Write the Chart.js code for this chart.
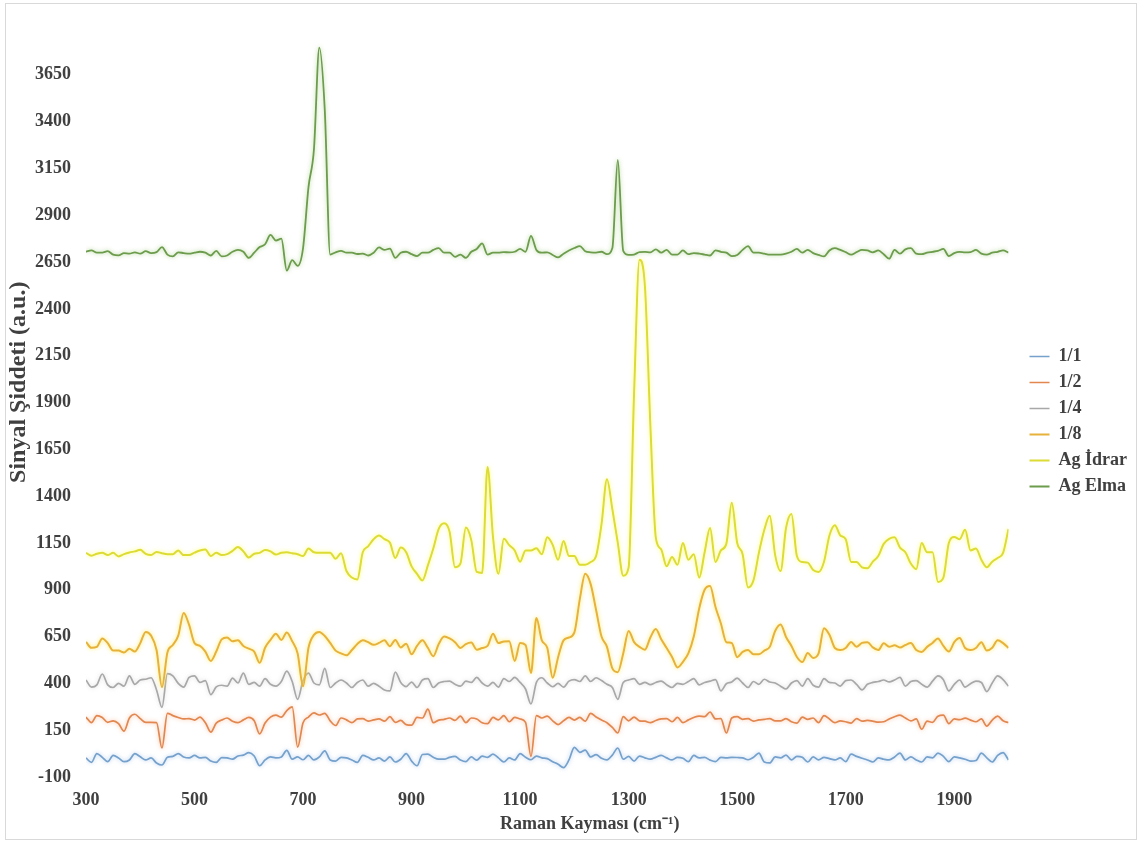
<!DOCTYPE html>
<html>
<head>
<meta charset="utf-8">
<script src="https://cdn.jsdelivr.net/npm/chart.js@4.4.1/dist/chart.umd.min.js"></script>
<style>
  html, body { margin: 0; padding: 0; background: #ffffff; }
  #frame { position: absolute; left: 5px; top: 3px; width: 1130px; height: 835px; border: 1px solid #d9d9d9; }
  #wrap { position: absolute; left: 0; top: 0; width: 1137px; height: 843px; }
</style>
</head>
<body>
<div id="frame"></div>
<div id="wrap"><canvas id="spectra"></canvas></div>
<script>
// Raman shift grid (cm-1), 10 cm-1 steps from 300 to 2000
const ramanShift = Array.from({ length: 171 }, (_, i) => 300 + 10 * i);

const xTickValues = [300, 500, 700, 900, 1100, 1300, 1500, 1700, 1900];
const yTickValues = [-100, 150, 400, 650, 900, 1150, 1400, 1650, 1900, 2150, 2400, 2650, 2900, 3150, 3400, 3650];

const seriesNames = ['1/1', '1/2', '1/4', '1/8', 'Ag İdrar', 'Ag Elma'];

// Signal intensity (a.u.) for each sample, one value per Raman shift
const dil_1_1 = [
  2, -22, 25, 5, -18, 15, 2, -18, -9, 25,
  8, -9, 2, -25, -36, 5, 10, 25, 7, 2,
  15, 2, 5, -15, -22, 4, 2, -5, 12, 17,
  30, 12, -40, -9, 7, 2, 7, 42, -5, 7,
  -8, 15, -9, 7, 40, -9, -15, 5, 2, -9,
  -22, 15, 5, -9, 2, -15, 7, -20, -5, 25,
  -15, -40, 20, 22, 5, -5, -5, 5, 10, -9,
  -18, 7, -10, 12, 5, 22, 2, -20, 2, -9,
  25, 5, -8, 12, 2, -2, -18, -32, -50, -9,
  58, 32, 44, 7, 20, 0, -9, 17, 55, -5,
  10, -15, 12, 2, -5, 5, 15, 2, -9, 5,
  0, -18, 15, 2, 5, -10, -18, 5, 2, 5,
  4, 2, -8, 5, 28, -20, -25, 7, 2, 17,
  -9, 10, 5, -20, 7, -9, 5, -2, -9, 2,
  -18, 22, 10, 0, -9, -20, 2, -5, -9, 7,
  28, -9, 7, -9, -20, 7, 2, 28, 10, -18,
  7, 2, -5, -15, -12, 28, 2, -20, 15, 30,
  -9
];

const dil_1_2 = [
  220, 190, 228, 218, 192, 200, 185, 145, 215, 235,
  212, 192, 192, 190, 55, 240, 228, 218, 210, 212,
  204, 220, 190, 140, 188, 204, 215, 198, 190, 205,
  218, 200, 130, 188, 220, 230, 220, 255, 275, 60,
  190, 220, 242, 231, 240, 200, 175, 215, 205, 190,
  210, 212, 198, 205, 210, 198, 222, 192, 202, 180,
  177, 218, 215, 262, 190, 204, 208, 215, 202, 225,
  190, 215, 210, 190, 185, 218, 205, 228, 195, 218,
  210, 192, 10, 228, 215, 225, 200, 180, 200, 218,
  204, 218, 198, 240, 220, 204, 190, 165, 135, 222,
  200, 220, 200, 198, 190, 202, 210, 212, 195, 218,
  190, 205, 218, 225, 222, 247, 210, 212, 135, 215,
  222, 208, 212, 198, 205, 208, 212, 200, 200, 212,
  195, 188, 220, 208, 215, 190, 228, 210, 190, 200,
  195, 188, 212, 198, 202, 198, 193, 195, 210, 222,
  230, 215, 200, 210, 155, 198, 192, 225, 230, 185,
  210, 206, 214, 204, 195, 210, 172, 204, 225, 200,
  190
];

const dil_1_4 = [
  418, 380, 392, 450, 392, 378, 400, 385, 440, 395,
  418, 422, 430, 365, 272, 452, 440, 400, 380, 432,
  440, 405, 415, 340, 381, 390, 385, 428, 402, 455,
  395, 405, 385, 425, 395, 385, 410, 465, 410, 315,
  415, 455, 402, 392, 480, 378, 402, 418, 402, 378,
  405, 418, 385, 400, 385, 365, 360, 460, 405, 383,
  407, 378, 418, 425, 378, 402, 410, 412, 395, 385,
  412, 405, 432, 402, 385, 405, 380, 425, 410, 432,
  405, 370, 290, 405, 430, 402, 382, 400, 380, 412,
  420, 410, 440, 410, 430, 415, 395, 378, 315, 405,
  418, 425, 395, 405, 393, 405, 412, 393, 378, 400,
  395, 410, 425, 392, 405, 412, 420, 360, 398, 407,
  428, 402, 378, 410, 395, 422, 407, 402, 385, 370,
  402, 415, 385, 425, 390, 380, 425, 405, 402, 385,
  415, 418, 395, 365, 395, 405, 410, 418, 408, 418,
  432, 385, 410, 415, 395, 380, 412, 440, 420, 360,
  395, 418, 380, 398, 412, 405, 356, 402, 440, 420,
  385
];

const dil_1_8 = [
  621, 590, 595, 640, 615, 575, 575, 565, 585, 570,
  615, 675, 655, 578, 380, 565, 605, 655, 776, 712,
  615, 600, 570, 520, 570, 635, 645, 625, 630, 600,
  585, 570, 510, 590, 632, 665, 632, 672, 625, 560,
  385, 590, 659, 675, 653, 616, 575, 560, 550, 578,
  610, 630, 620, 606, 616, 630, 598, 632, 592, 612,
  555, 600, 630, 590, 545, 610, 650, 640, 620, 589,
  610, 618, 580, 589, 600, 665, 615, 624, 625, 520,
  615, 605, 456, 749, 630, 590, 430, 540, 630, 645,
  672, 850, 985, 930, 792, 650, 595, 480, 460, 560,
  680, 620, 595, 580, 645, 690, 635, 589, 541, 485,
  515, 560, 650, 800, 900, 920, 808, 720, 620, 616,
  540, 568, 578, 555, 555, 575, 595, 680, 715, 648,
  600, 541, 514, 562, 536, 560, 695, 660, 589, 578,
  589, 621, 595, 616, 620, 592, 578, 614, 595, 603,
  592, 605, 615, 578, 568, 595, 616, 640, 600, 570,
  620, 642, 589, 578, 589, 620, 575, 590, 630, 615,
  589
];

const agIdrar = [
  1097, 1082, 1092, 1098, 1085, 1097, 1078, 1090, 1099, 1105,
  1113, 1092, 1086, 1102, 1095, 1090, 1090, 1110, 1085, 1085,
  1098, 1110, 1115, 1080, 1098, 1085, 1090, 1108, 1128, 1105,
  1072, 1092, 1097, 1112, 1105, 1088, 1098, 1100, 1095, 1090,
  1080, 1120, 1100, 1097, 1097, 1098, 1065, 1095, 1000, 965,
  955, 1100, 1132, 1170, 1190, 1170, 1152, 1070, 1125, 1100,
  1025, 985, 950, 1030, 1120, 1225, 1255, 1210, 1020, 1040,
  1232, 1165, 995, 990, 1556, 1182, 985, 1172, 1138, 1110,
  1050, 1110, 1110, 1122, 1090, 1180, 1140, 1060, 1160, 1080,
  1080, 1033, 1033, 1048, 1080, 1250, 1490, 1330, 1150, 975,
  1020, 1950, 2662, 2520, 1780, 1180, 1115, 1025, 1075, 1033,
  1150, 1060, 1090, 965, 1100, 1230, 1048, 1110, 1145, 1364,
  1150, 1090, 912, 950, 1097, 1220, 1295, 1085, 1000, 1230,
  1305, 1080, 1048, 1045, 1005, 995, 1050, 1190, 1245, 1190,
  1170, 1048, 1048, 1020, 1015, 1050, 1080, 1145, 1172, 1180,
  1125, 1100, 1040, 1010, 1150, 1100, 1100, 942, 965, 1150,
  1182, 1170, 1220, 1110, 1120, 1060, 1020, 1050, 1070, 1097,
  1225
];

const agElma = [
  2705, 2712, 2700, 2700, 2708, 2690, 2686, 2698, 2695, 2702,
  2695, 2708, 2698, 2703, 2730, 2690, 2680, 2702, 2698, 2695,
  2700, 2705, 2700, 2685, 2710, 2680, 2685, 2705, 2715, 2705,
  2672, 2700, 2730, 2745, 2795, 2765, 2775, 2605, 2660, 2630,
  2725, 3050, 3250, 3795, 3463, 2690, 2702, 2710, 2700, 2700,
  2693, 2695, 2685, 2700, 2728, 2715, 2722, 2672, 2700, 2705,
  2692, 2682, 2700, 2700, 2715, 2724, 2700, 2700, 2678, 2690,
  2672, 2705, 2720, 2750, 2690, 2700, 2700, 2703, 2702, 2705,
  2720, 2705, 2790, 2715, 2700, 2702, 2688, 2675, 2695, 2712,
  2725, 2735, 2708, 2702, 2700, 2705, 2692, 2725, 3195, 2710,
  2688, 2690, 2703, 2704, 2702, 2718, 2700, 2715, 2690, 2690,
  2712, 2692, 2698, 2695, 2690, 2685, 2712, 2705, 2700, 2682,
  2688, 2715, 2735, 2700, 2700, 2695, 2690, 2690, 2690, 2695,
  2705, 2720, 2700, 2715, 2698, 2688, 2680, 2712, 2724, 2715,
  2703, 2690, 2703, 2715, 2712, 2702, 2712, 2692, 2668, 2715,
  2695, 2718, 2724, 2695, 2692, 2700, 2705, 2710, 2720, 2682,
  2698, 2704, 2702, 2703, 2715, 2695, 2690, 2700, 2705, 2712,
  2700
];

const seriesValues = [dil_1_1, dil_1_2, dil_1_4, dil_1_8, agIdrar, agElma];
const lineColors = ['#75a1cc', '#e2874f', '#a8a8a8', '#e6b23a', '#dcdc34', '#6c9c4c'];
const glowColors = [
  'rgba(160,195,230,0.8)', 'rgba(245,180,140,0.8)', 'rgba(210,210,210,0.8)',
  'rgba(255,232,95,0.95)', 'rgba(255,255,120,1)', 'rgba(160,205,130,0.8)'
];
const lineWidths = [1.7, 1.7, 1.7, 2, 2, 1.8];

const textColor = '#404040';
const serifFont = '"Liberation Serif", "Times New Roman", serif';
const xTitle = 'Raman Kayması (cm⁻¹)';
const yTitle = 'Sinyal Şiddeti (a.u.)';

// Soft halo around every spectrum line
const lineGlow = {
  id: 'lineGlow',
  beforeDatasetDraw(chart, args) {
    const ds = chart.data.datasets[args.index];
    chart.ctx.save();
    chart.ctx.shadowColor = ds.glowColor;
    chart.ctx.shadowBlur = 4;
  },
  afterDatasetDraw(chart) {
    chart.ctx.restore();
  }
};

// Axis titles, each placed freely beside its axis
const axisTitles = {
  id: 'axisTitles',
  afterDraw(chart) {
    const { ctx, chartArea } = chart;
    ctx.save();
    ctx.fillStyle = textColor;
    ctx.textAlign = 'center';
    ctx.textBaseline = 'middle';

    ctx.font = 'bold 18px ' + serifFont;
    const cx = chartArea.left + (chartArea.right - chartArea.left) * 0.546;
    ctx.fillText(xTitle, cx, chartArea.bottom + 47);

    ctx.font = 'bold 24px ' + serifFont;
    const cy = chartArea.top + (chartArea.bottom - chartArea.top) * 0.473;
    ctx.translate(19, cy);
    ctx.rotate(-Math.PI / 2);
    ctx.fillText(yTitle, 0, 0);
    ctx.restore();
  }
};

const datasets = seriesNames.map((name, k) => ({
  label: name,
  data: seriesValues[k].map((v, i) => ({ x: ramanShift[i], y: v })),
  borderColor: lineColors[k],
  backgroundColor: lineColors[k],
  glowColor: glowColors[k],
  borderWidth: lineWidths[k],
  pointRadius: 0,
  cubicInterpolationMode: 'monotone',
  order: seriesNames.length - 1 - k,
  yAxisID: 'y'
}));

const hiddenBox = {
  type: 'linear',
  display: true,
  grid: { display: false, drawTicks: false },
  border: { display: false },
  ticks: { display: false }
};

new Chart(document.getElementById('spectra'), {
  type: 'line',
  data: { datasets },
  plugins: [lineGlow, axisTitles],
  options: {
    responsive: true,
    maintainAspectRatio: false,
    animation: false,
    events: [],
    layout: { padding: { left: 6, top: 0, right: 0, bottom: 0 } },
    plugins: {
      tooltip: { enabled: false },
      legend: {
        position: 'right',
        align: 'center',
        labels: {
          usePointStyle: true,
          pointStyle: 'line',
          pointStyleWidth: 20,
          padding: 8,
          color: textColor,
          font: { family: serifFont, size: 18, weight: 'bold' },
          sort: (a, b) => a.datasetIndex - b.datasetIndex
        }
      }
    },
    scales: {
      x: {
        type: 'linear',
        min: 300,
        max: 2000,
        grid: { display: false, drawTicks: false },
        border: { display: false },
        afterBuildTicks: (scale) => { scale.ticks = xTickValues.map(v => ({ value: v })); },
        afterFit: (scale) => { scale.height = 66; },
        ticks: {
          padding: 13,
          maxRotation: 0,
          autoSkip: false,
          color: textColor,
          font: { family: serifFont, size: 18, weight: 'bold' },
          callback: (v) => String(v)
        }
      },
      y: {
        type: 'linear',
        min: -100,
        max: 3900,
        grid: { display: false, drawTicks: false },
        border: { display: false },
        afterBuildTicks: (scale) => { scale.ticks = yTickValues.map(v => ({ value: v })); },
        afterFit: (scale) => { scale.width = 80; },
        ticks: {
          padding: 15,
          autoSkip: false,
          color: textColor,
          font: { family: serifFont, size: 18, weight: 'bold' },
          callback: (v) => String(v)
        }
      },
      gapRight: Object.assign({}, hiddenBox, {
        position: 'right',
        afterFit: (scale) => { scale.width = 13; }
      }),
      gapTop: Object.assign({}, hiddenBox, {
        position: 'top',
        afterFit: (scale) => { scale.height = 28; }
      })
    }
  }
});
</script>
</body>
</html>
